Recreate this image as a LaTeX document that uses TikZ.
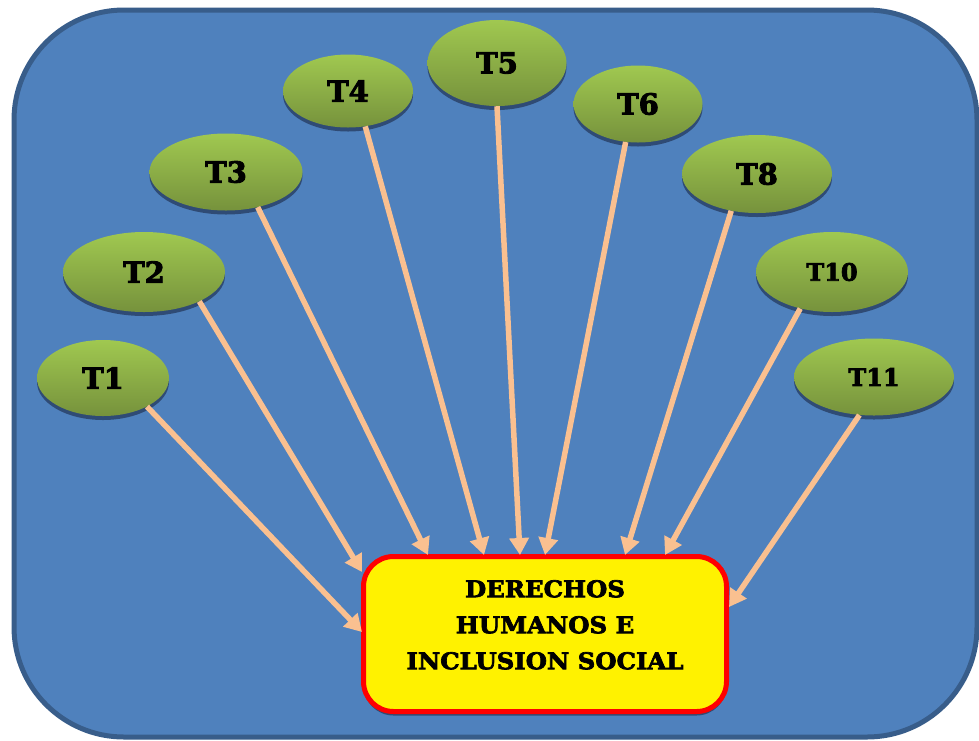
\documentclass[tikz,border=0pt]{standalone}
\usepackage{fontspec}
\setmainfont{DejaVu Serif}
\newfontfamily\heavy[FakeBold=3]{DejaVu Serif Bold}
\newfontfamily\heavywide[FakeBold=3,FakeStretch=1.06]{DejaVu Serif Bold}
\usetikzlibrary{shapes.geometric,shadows,arrows.meta}
\definecolor{bgblue}{RGB}{79,129,189}
\definecolor{bgedge}{RGB}{56,93,138}
\definecolor{gtop}{RGB}{160,200,80}
\definecolor{gbot}{RGB}{118,146,60}
\definecolor{shadowc}{RGB}{44,70,110}
\definecolor{peach}{RGB}{250,192,144}
\tikzset{
  topic/.style={ellipse, inner sep=0pt, top color=gtop, bottom color=gbot,
    drop shadow={shadow xshift=0pt, shadow yshift=-4pt, fill=shadowc, opacity=0.9},
    font=\fontsize{29}{30}\heavy},
  smalltopic/.style={topic, font=\fontsize{24}{26}\heavy},
  mainbox/.style={rectangle, rounded corners=30pt, draw=red, line width=5pt, fill=yellow,
    minimum width=363pt, minimum height=155pt, align=center,
    drop shadow={shadow xshift=0pt, shadow yshift=-4pt, fill=shadowc, opacity=0.9},
    font=\fontsize{23}{36}\heavywide},
  link/.style={draw=peach, line width=5.5pt, -{Triangle[length=17pt,width=19pt]}}
}
\begin{document}
\begin{tikzpicture}[x=1pt,y=-1pt]
\useasboundingbox (0,0) rectangle (979,740);
\fill[white] (0,0) rectangle (979,740);
\draw[bgedge, fill=bgblue, line width=5pt, rounded corners=110pt] (14,10) rectangle (977,737);

\node[topic, minimum width=132pt, minimum height=76pt] (T1) at (103,378) {T1};
\node[topic, minimum width=162pt, minimum height=80pt] (T2) at (144,272) {T2};
\node[topic, minimum width=153pt, minimum height=77pt] (T3) at (226,172) {T3};
\node[topic, minimum width=130pt, minimum height=73pt] (T4) at (348,91) {T4};
\node[topic, minimum width=139pt, minimum height=86pt] (T5) at (497,63) {T5};
\node[topic, minimum width=129pt, minimum height=77pt] (T6) at (638,104) {T6};
\node[topic, minimum width=150pt, minimum height=78pt] (T8) at (757,174) {T8};
\node[smalltopic, minimum width=152pt, minimum height=80pt] (T10) at (832,272) {T10};
\node[smalltopic, minimum width=160pt, minimum height=77pt] (T11) at (874,377) {T11};

\node[mainbox] (box) at (545,634) {\raisebox{8pt}[\height][\depth]{\begin{tabular}{@{}c@{}}DERECHOS\\HUMANOS E\\INCLUSION SOCIAL\end{tabular}}};

\coordinate (a1) at (362,632);
\coordinate (a2) at (362,572);
\coordinate (a3) at (428,555);
\coordinate (a4) at (484,555);
\coordinate (a5) at (520,555);
\coordinate (a6) at (545,555);
\coordinate (a8) at (625,555);
\coordinate (a10) at (665,555);
\coordinate (a11) at (729,607);

\draw[link] (T1.-33) -- (a1);
\draw[link] (T2.-28) -- (a2);
\draw[link] (T3.-48) -- (a3);
\draw[link] (T4.-64) -- (a4);
\draw[link] (T5.-90) -- (a5);
\draw[link] (T6.-108) -- (a6);
\draw[link] (T8.-125) -- (a8);
\draw[link] (T10.-131) -- (a10);
\draw[link] (T11.-111) -- (a11);
\end{tikzpicture}
\end{document}
